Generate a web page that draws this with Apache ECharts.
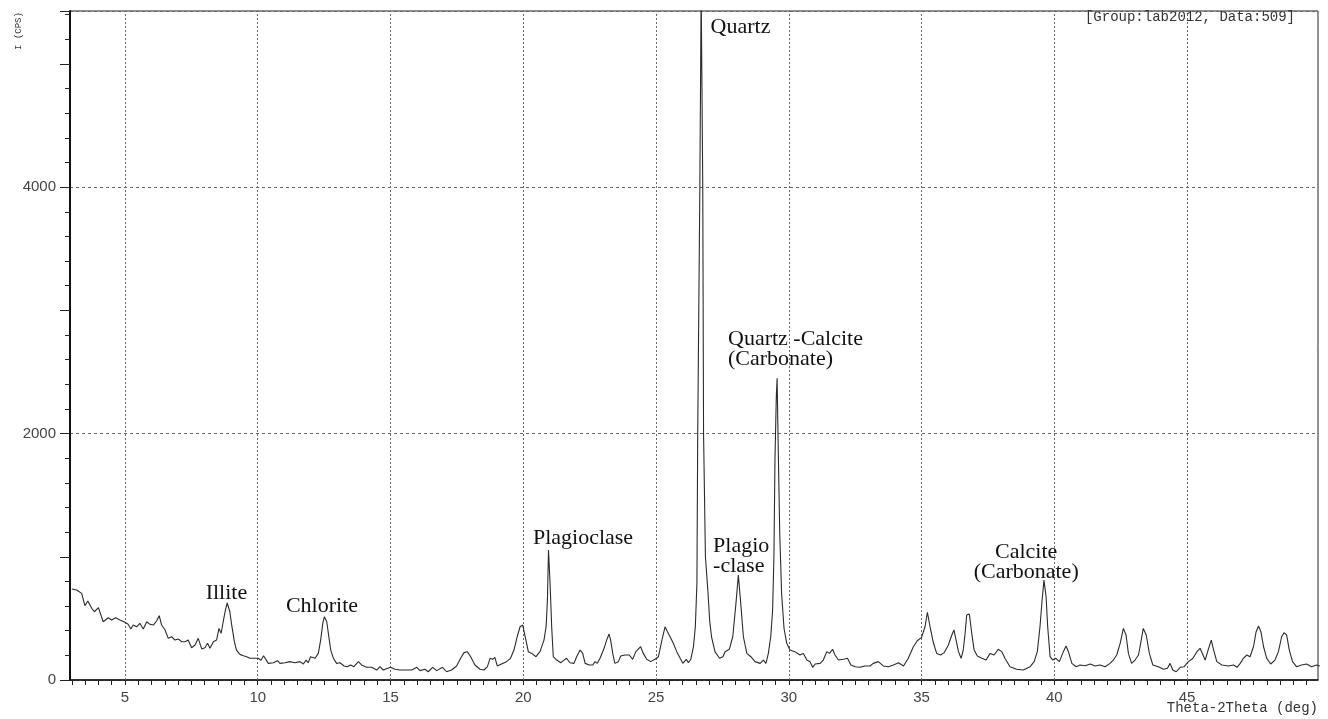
<!DOCTYPE html>
<html>
<head>
<meta charset="utf-8">
<script src="https://cdn.jsdelivr.net/npm/echarts@6/dist/echarts.min.js"></script>
<style>
html,body{margin:0;padding:0;background:#fff;}
#c{width:1328px;height:719px;}
</style>
</head>
<body>
<div id="c"></div>
<script>
// 2-theta (deg)
var twoTheta = [
3.0,3.18,3.37,3.49,3.6,3.75,3.85,4.0,4.18,4.37,4.5,4.65,4.81,5.0,5.12,5.22,5.31,5.44,5.56,5.69,5.82,5.94,
6.07,6.19,6.29,6.38,6.51,6.63,6.76,6.88,7.01,7.13,7.26,7.38,7.51,7.64,7.76,7.89,8.01,8.11,8.2,8.33,8.45,
8.54,8.62,8.7,8.77,8.85,8.95,9.02,9.12,9.2,9.33,9.46,9.58,9.71,9.9,10.02,10.12,10.22,10.4,10.59,10.74,
10.84,11.03,11.21,11.4,11.59,11.72,11.82,11.9,11.99,12.16,12.28,12.37,12.45,12.51,12.6,12.66,12.75,12.85,
12.97,13.1,13.25,13.37,13.5,13.62,13.79,13.91,14.1,14.29,14.48,14.6,14.73,14.85,15.0,15.17,15.36,15.61,
15.8,15.99,16.11,16.3,16.42,16.59,16.74,16.96,17.11,17.3,17.49,17.64,17.77,17.89,18.02,18.18,18.37,18.52,
18.65,18.75,18.85,18.93,19.02,19.18,19.37,19.52,19.65,19.77,19.88,19.98,20.1,20.19,20.32,20.48,20.63,
20.78,20.86,20.91,20.95,21.01,21.07,21.13,21.26,21.41,21.51,21.63,21.76,21.91,22.01,22.14,22.24,22.33,
22.49,22.62,22.7,22.79,22.89,23.02,23.14,23.23,23.29,23.37,23.45,23.58,23.67,23.83,23.99,24.12,24.24,
24.42,24.52,24.65,24.8,24.96,25.09,25.17,25.25,25.34,25.43,25.53,25.65,25.78,25.91,26.01,26.14,26.22,
26.31,26.41,26.48,26.54,26.57,26.65,26.7,26.76,26.79,26.86,26.96,27.02,27.09,27.22,27.39,27.52,
27.6,27.76,27.89,28.01,28.1,28.19,28.29,28.42,28.57,28.73,28.92,29.04,29.14,29.23,29.32,29.39,29.44,
29.48,29.53,29.56,29.6,29.66,29.73,29.82,29.92,30.04,30.23,30.42,30.55,30.68,30.8,30.9,30.99,31.18,
31.3,31.43,31.53,31.65,31.74,31.87,32.06,32.21,32.34,32.5,32.68,32.87,33.06,33.18,33.37,33.56,33.75,
33.94,34.13,34.32,34.5,34.69,34.84,35.0,35.13,35.22,35.32,35.45,35.57,35.72,35.85,36.01,36.14,36.22,
36.3,36.39,36.49,36.57,36.64,36.7,36.8,36.89,36.98,37.1,37.27,37.43,37.58,37.73,37.89,38.02,38.14,
38.33,38.58,38.83,39.09,39.24,39.36,39.46,39.54,39.61,39.69,39.75,39.84,39.94,40.06,40.19,40.34,40.44,
40.53,40.66,40.82,40.97,41.16,41.35,41.53,41.72,41.91,42.1,42.22,42.35,42.48,42.6,42.7,42.79,42.91,
43.04,43.17,43.25,43.35,43.46,43.58,43.71,43.92,44.11,44.26,44.36,44.46,44.59,44.74,44.89,45.05,45.22,
45.37,45.49,45.6,45.68,45.81,45.91,46.0,46.12,46.31,46.56,46.75,46.88,47.0,47.12,47.25,47.37,47.5,
47.6,47.69,47.78,47.88,48.0,48.15,48.31,48.44,48.56,48.65,48.75,48.85,48.97,49.12,49.31,49.5,49.69,
49.88,50.0
];
// intensity (CPS)
var intensity = [
738,730,703,603,641,582,554,587,473,505,487,505,487,468,452,414,446,432,460,414,473,452,
446,479,522,446,406,338,351,324,333,311,311,324,262,284,338,252,262,298,257,311,324,
419,379,473,554,625,554,446,311,243,208,197,189,176,176,176,160,197,135,140,157,
135,140,149,140,149,130,162,140,189,176,216,324,460,514,473,379,243,176,
135,140,114,108,122,108,149,122,103,103,81,108,81,92,103,87,81,81,
81,103,76,87,67,103,76,103,67,81,114,176,222,230,189,122,87,81,
108,176,168,184,114,130,149,176,243,351,432,446,324,230,216,189,230,
324,432,649,1055,784,432,189,162,140,157,176,140,135,189,243,216,135,
122,122,149,135,176,243,324,373,324,216,135,149,195,203,203,168,230,
270,216,168,149,168,189,270,351,432,392,351,298,230,176,135,168,140,
168,270,432,784,2000,4000,5600,4000,2000,1000,700,480,351,230,176,189,
230,249,351,622,852,622,351,216,189,149,135,162,135,216,351,568,1000,
1800,2300,2450,1907,1180,700,420,300,243,230,203,216,162,149,103,130,135,
162,230,216,249,203,162,168,176,122,108,103,114,114,135,149,114,108,
122,140,114,176,270,319,346,432,550,432,298,216,203,222,284,365,406,
324,230,176,243,379,527,535,379,243,195,176,162,216,203,249,230,176,
108,87,81,108,149,230,432,649,811,676,432,189,162,176,149,230,276,
230,135,108,122,116,130,114,122,108,135,162,203,298,419,365,216,135,
162,203,298,419,365,216,122,108,87,95,135,81,67,103,108,149,176,
230,257,203,162,257,324,243,149,122,114,122,103,135,176,203,189,270,
392,438,392,270,176,130,162,230,351,384,365,243,149,108,122,130,108,
122,114
];
// tick labels / grid positions
var xLabelValues = [5,10,15,20,25,30,35,40,45];
var yLabelValues = [0,2000,4000];
// peak annotations [2theta, intensity, text, align]
var peakLabels = [
  [28.18, 5298, 'Quartz', 'center'],
  [27.71, 2682, 'Quartz -Calcite\n(Carbonate)', 'left'],
  [27.15, 1006, 'Plagio\n-clase', 'left'],
  [22.25, 1152, 'Plagioclase', 'center'],
  [8.82, 706, 'Illite', 'center'],
  [12.42, 600, 'Chlorite', 'center'],
  [38.94, 953, 'Calcite\n(Carbonate)', 'center']
];

var X_MIN = 2.93, X_MAX = 49.93, Y_MIN = 0, Y_MAX = 5430;
var X_TICK_STEP = 0.5;

// minor tick positions every 0.5 deg inside the axis range
var xTickValues = [];
for (var k = Math.ceil(X_MIN / X_TICK_STEP); k * X_TICK_STEP <= X_MAX; k++) {
  xTickValues.push(Math.round(k * X_TICK_STEP * 100) / 100);
}

var seriesData = twoTheta.map(function (t, i) { return [t, intensity[i]]; });

var chart = echarts.init(document.getElementById('c'), null, {renderer: 'canvas'});

var yBase = {type: 'value', min: Y_MIN, max: Y_MAX, position: 'left', offset: 0};

var option = {
  animation: false,
  backgroundColor: '#ffffff',
  grid: {left: 70, right: 10, top: 11, bottom: 39, show: true, borderColor: '#222', borderWidth: 1, backgroundColor: 'transparent'},
  xAxis: [{
    type: 'value', min: X_MIN, max: X_MAX,
    axisLine: {show: true, onZero: false, lineStyle: {color: '#111', width: 1.5}},
    axisTick: {show: true, length: 5, customValues: xTickValues, lineStyle: {color: '#222', width: 1}},
    splitLine: {show: false},
    axisLabel: {
      show: true, margin: 10, color: '#444', fontFamily: 'Liberation Sans', fontSize: 15,
      customValues: xLabelValues,
      formatter: function (v) { return String(Math.round(v)); }
    }
  }],
  yAxis: [
    Object.assign({}, yBase, {
      interval: 200,
      axisLine: {show: true, lineStyle: {color: '#111', width: 2}},
      axisTick: {show: true, length: 5, lineStyle: {color: '#222', width: 1}},
      splitLine: {show: false},
      axisLabel: {
        show: true, margin: 14, color: '#444', fontFamily: 'Liberation Sans', fontSize: 15,
        formatter: function (v) { return yLabelValues.indexOf(v) >= 0 ? String(v) : ''; }
      }
    }),
    Object.assign({}, yBase, {
      interval: 1000,
      axisLine: {show: false},
      axisTick: {show: true, length: 10, lineStyle: {color: '#222', width: 1}},
      splitLine: {show: false},
      axisLabel: {show: false}
    }),
    Object.assign({}, yBase, {
      interval: 2000,
      axisLine: {show: false},
      axisTick: {show: false},
      axisLabel: {show: false},
      splitLine: {show: true, lineStyle: {color: '#666', width: 1, type: [3, 3]}}
    })
  ],
  graphic: [
    {type: 'text', right: 33, top: 10, style: {text: '[Group:lab2012, Data:509]', font: '14px "Liberation Mono"', fill: '#333'}},
    {type: 'text', right: 10, top: 701, style: {text: 'Theta-2Theta (deg)', font: '14px "Liberation Mono"', fill: '#333'}},
    {type: 'text', x: 19, y: 31, rotation: Math.PI / 2, style: {text: 'I (CPS)', font: '9px "Liberation Mono"', fill: '#333', align: 'center', verticalAlign: 'middle'}}
  ],
  series: [{
    type: 'line',
    data: seriesData,
    xAxisIndex: 0, yAxisIndex: 0,
    showSymbol: false, symbol: 'none',
    clip: true, silent: true,
    lineStyle: {color: '#2b2b2b', width: 1.1},
    z: 5,
    markLine: {
      silent: true, symbol: 'none', animation: false,
      label: {show: false},
      lineStyle: {color: '#666', width: 1, type: [2, 2]},
      data: xLabelValues.map(function (v) { return {xAxis: v}; })
    },
    markPoint: {
      silent: true, animation: false,
      symbol: 'circle', symbolSize: 1,
      itemStyle: {color: 'rgba(0,0,0,0)'},
      data: peakLabels.map(function (p) {
        return {
          coord: [p[0], p[1]],
          label: {
            show: true, position: 'inside', formatter: p[2], align: p[3], verticalAlign: 'middle',
            fontFamily: 'Liberation Serif', fontSize: 22, lineHeight: 20, color: '#111'
          }
        };
      })
    }
  }]
};
chart.setOption(option);
</script>
</body>
</html>
